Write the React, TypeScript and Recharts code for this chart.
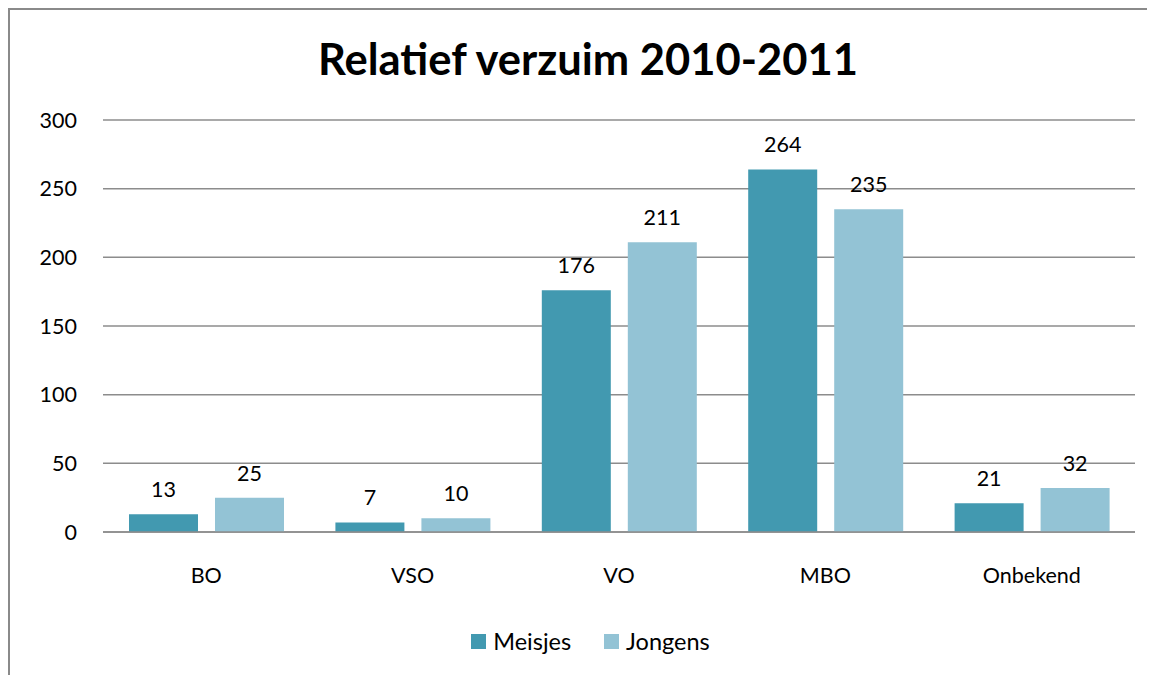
import React from "react";
import { BarChart, Bar, XAxis, YAxis, CartesianGrid, LabelList, Legend } from "recharts";

const categories = ["BO", "VSO", "VO", "MBO", "Onbekend"];
const meisjes = [13, 7, 176, 264, 21];
const jongens = [25, 10, 211, 235, 32];
const yTicks = [0, 50, 100, 150, 200, 250, 300];

const MEISJES_COLOR = "#4299b0";
const JONGENS_COLOR = "#93c3d5";
const FONT = "Lato, 'Open Sans', sans-serif";

const data = categories.map((name, i) => ({
  name,
  Meisjes: meisjes[i],
  Jongens: jongens[i],
}));

// simple square-icon legend like the original
function LegendContent() {
  const items = [
    { label: "Meisjes", color: MEISJES_COLOR },
    { label: "Jongens", color: JONGENS_COLOR },
  ];
  return (
    <div
      style={{
        display: "flex",
        justifyContent: "center",
        gap: 33,
        paddingLeft: 36,
        fontFamily: FONT,
        fontSize: 23.5,
        color: "#000",
      }}
    >
      {items.map((it) => (
        <div key={it.label} style={{ display: "flex", alignItems: "center", gap: 7 }}>
          <span style={{ width: 15, height: 15, background: it.color, display: "inline-block" }} />
          <span>{it.label}</span>
        </div>
      ))}
    </div>
  );
}

export default function App() {
  return (
    <div
      style={{
        position: "relative",
        width: 1160,
        height: 690,
        borderTop: "2px solid #8a8a8a",
        borderLeft: "2px solid #8a8a8a",
        background: "#fff",
      }}
    >
      <div
        style={{
          position: "absolute",
          left: 0,
          width: 1156,
          top: 22,
          textAlign: "center",
          fontFamily: FONT,
          fontWeight: 700,
          fontSize: 43.5,
          color: "#000",
        }}
      >
        Relatief verzuim 2010-2011
      </div>
      <BarChart
        width={1150}
        height={680}
        data={data}
        margin={{ top: 110, right: 25, bottom: 0, left: 0 }}
        barCategoryGap="12.6%"
        barGap={17}
      >
        <CartesianGrid vertical={false} stroke="#8c8c8c" strokeWidth={1.5} />
        <XAxis
          dataKey="name"
          axisLine={{ stroke: "#8c8c8c", strokeWidth: 1.5 }}
          tickLine={false}
          tickMargin={30}
          height={130}
          tick={{ fill: "#000", fontSize: 21.5, fontFamily: FONT }}
        />
        <YAxis
          domain={[0, 300]}
          ticks={yTicks}
          width={93}
          axisLine={false}
          tickLine={false}
          tickMargin={20}
          tick={{ fill: "#000", fontSize: 21.5, fontFamily: FONT }}
        />
        <Legend verticalAlign="bottom" content={<LegendContent />} wrapperStyle={{ bottom: 35 }} />
        <Bar dataKey="Meisjes" fill={MEISJES_COLOR} isAnimationActive={false}>
          <LabelList dataKey="Meisjes" position="top" offset={17} fill="#000" fontSize={21.5} fontFamily={FONT} />
        </Bar>
        <Bar dataKey="Jongens" fill={JONGENS_COLOR} isAnimationActive={false}>
          <LabelList dataKey="Jongens" position="top" offset={17} fill="#000" fontSize={21.5} fontFamily={FONT} />
        </Bar>
      </BarChart>
    </div>
  );
}
